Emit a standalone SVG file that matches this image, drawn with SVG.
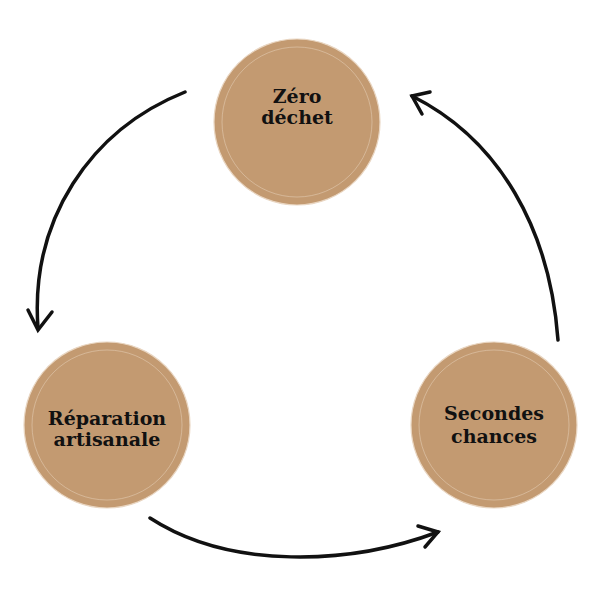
<svg xmlns="http://www.w3.org/2000/svg" width="600" height="600" viewBox="0 0 600 600">
<style>
.n{fill:#c39a71;stroke:#e9d6c2;stroke-width:1.2}
.t{font-family:"DejaVu Serif","Liberation Serif",serif;font-weight:bold;font-size:19px;fill:#111;text-anchor:middle}
.c{fill:none;stroke:#111;stroke-width:3.5;stroke-linecap:round}
</style>
<rect width="600" height="600" fill="#fff"/>
<g id="zero"><circle class="n" cx="297" cy="122" r="83"/><circle cx="297" cy="122" r="75" fill="none" stroke="#e9d6c2" stroke-width="0.8" opacity="0.6"/><text class="t" x="297" y="103">Zéro</text><text class="t" x="297" y="124">déchet</text></g>
<g id="reparation"><circle class="n" cx="107" cy="425" r="83"/><circle cx="107" cy="425" r="75" fill="none" stroke="#e9d6c2" stroke-width="0.8" opacity="0.6"/><text class="t" x="107" y="425">Réparation</text><text class="t" x="107" y="446">artisanale</text></g>
<g id="secondes"><circle class="n" cx="494" cy="425" r="83"/><circle cx="494" cy="425" r="75" fill="none" stroke="#e9d6c2" stroke-width="0.8" opacity="0.6"/><text class="t" x="494" y="420">Secondes</text><text class="t" x="494" y="443">chances</text></g>
<g id="connectors">
<path class="c" d="M185,92 C90,130 30,220 38,328"/>
<path class="c" d="M28,310 L38,330 L52,312"/>
<path class="c" d="M150,518 C230,570 350,565 438,532"/>
<path class="c" d="M418,526 L438,532 L425,547"/>
<path class="c" d="M558,340 C550,230 500,140 412,96"/>
<path class="c" d="M430,92 L412,96 L422,114"/>
</g>
</svg>
